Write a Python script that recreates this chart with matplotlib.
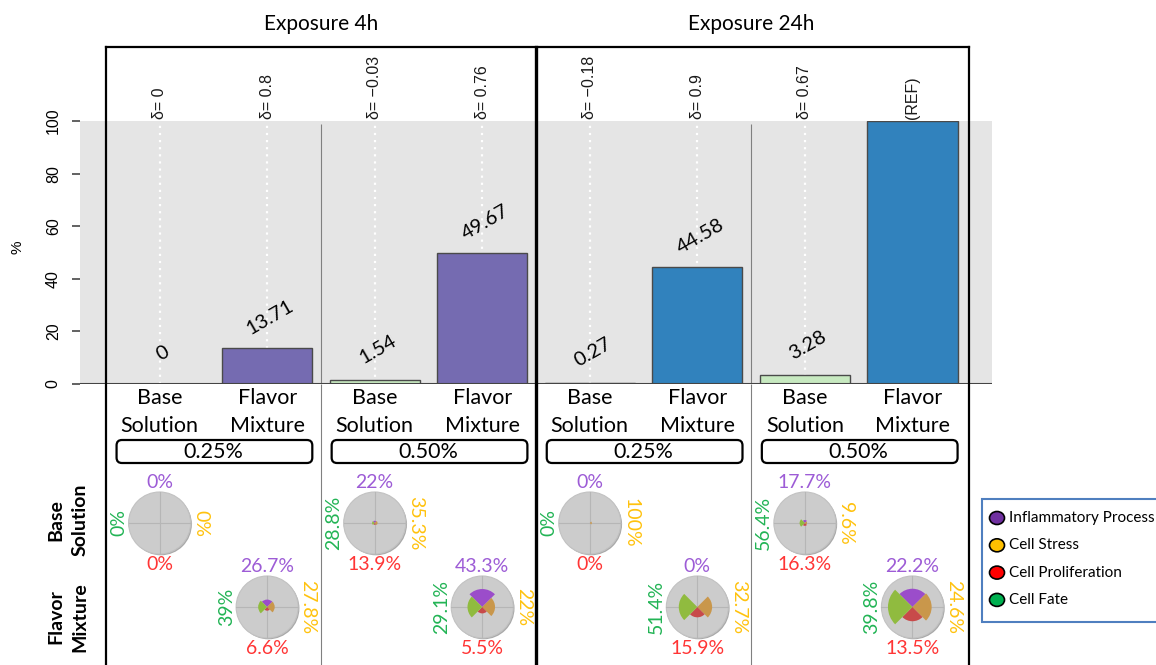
import numpy as np
import matplotlib
matplotlib.use("Agg")
import matplotlib.pyplot as plt
from matplotlib.patches import Circle, Wedge, FancyBboxPatch, Rectangle, Ellipse
from matplotlib.transforms import blended_transform_factory

# ---------------- data ----------------
exposures = ["Exposure 4h", "Exposure 24h"]
concentrations = ["0.25%", "0.50%", "0.25%", "0.50%"]
treatments = ["Base\nSolution", "Flavor\nMixture"]
bar_values = [0, 13.71, 1.54, 49.67, 0.27, 44.58, 3.28, 100]
deltas = [0, 0.8, -0.03, 0.76, -0.18, 0.9, 0.67, None]   # None marks the reference

processes = ["Inflammatory Process", "Cell Stress", "Cell Proliferation", "Cell Fate"]
inflammatory = [0, 26.7, 22, 43.3, 0, 0, 17.7, 22.2]
cell_stress = [0, 27.8, 35.3, 22, 100, 32.7, 9.6, 24.6]
cell_proliferation = [0, 6.6, 13.9, 5.5, 0, 15.9, 16.3, 13.5]
cell_fate = [0, 39, 28.8, 29.1, 0, 51.4, 56.4, 39.8]

# ---------------- style ----------------
plt.rcParams["font.family"] = ["Lato", "DejaVu Sans"]
W, H = 1156, 665
fig = plt.figure(figsize=(W / 100, H / 100), dpi=100)

BASE_COLOR = "#C7E9C0"
FLAVOR_COLORS = ["#756BB1", "#3182BD"]
WEDGE_COLORS = ["#9B4DCA", "#C9974B", "#C84A4A", "#90BB3F"]
LABEL_COLORS = ["#9D5CD6", "#FFC20E", "#FF3535", "#22B455"]
LEGEND_COLORS = ["#7030A0", "#FFC000", "#FF0000", "#00B050"]
R_FONT = ["Liberation Sans", "DejaVu Sans"]

n = len(bar_values)
x = np.arange(n)
XLIM = (-0.74, n - 0.26)
ax_left, ax_w = 80, 912
px_per_unit = ax_w / (XLIM[1] - XLIM[0])

# ---------------- bar panel ----------------
ax = fig.add_axes([ax_left / W, 1 - 384 / H, ax_w / W, 263 / H])
ax.set_facecolor("#E5E5E5")
ax.set_xlim(*XLIM)
ax.set_ylim(0, 100)
for s in ax.spines.values():
    s.set_visible(False)
ax.set_xticks([])
ax.set_yticks(np.arange(0, 101, 20))
ax.tick_params(axis="y", length=5.8, width=1.3, color="#555555", pad=8,
               labelsize=11.5, labelrotation=90)
for lab in ax.get_yticklabels():
    lab.set_family(R_FONT)
    lab.set_va("center")
ax.text(-0.069, 0.52, "%", transform=ax.transAxes, rotation=90, ha="center",
        va="center", fontsize=11, family=R_FONT)

ax.vlines(x, 0, 100, colors="white", linestyles=(0, (1, 2.2)), lw=1.6, zorder=1)
ax.vlines([1.5, 5.5], 0, 98.8, colors="#808080", lw=0.8, zorder=1)

colors = []
for i in range(n):
    if i % 2 == 0:
        colors.append(BASE_COLOR)
    else:
        colors.append(FLAVOR_COLORS[i // 4])
ax.bar(x, bar_values, width=0.84, color=colors, edgecolor="#4A4A4A", lw=1.0, zorder=2)
ax.axhline(0, color="#444444", lw=1.5, zorder=3)

for i, (v, d) in enumerate(zip(bar_values, deltas)):
    if d is None:
        top = "(REF)"
    else:
        top = "δ= " + f"{d:g}".replace("-", "\u2212")
        ax.annotate(f"{v:g}", (i, v), xytext=(2, 22), textcoords="offset points",
                    ha="center", va="center", rotation=30, fontsize=14.5,
                    zorder=4)
    ax.text(i, 100.8, top, rotation=90, ha="center", va="bottom", fontsize=11.5,
            family=R_FONT, color="#1A1A1A")

# exposure titles
tr_title = blended_transform_factory(ax.transData, fig.transFigure)
for g, title in enumerate(exposures):
    fig.text(4 * g + 1.5, 1 - 24 / H, title, transform=tr_title, ha="center",
             va="center", fontsize=15)

# ---------------- lower panel ----------------
bh = 281
bx = fig.add_axes([ax_left / W, 0, ax_w / W, bh / H])
bx.set_xlim(*XLIM)
bx.set_ylim(-bh / px_per_unit, 0)
bx.axis("off")


def py(p):
    # vertical pixel position (from figure top) to lower-panel data units
    return -(p - 384) / px_per_unit


bx.vlines([1.5, 5.5], py(665), 0, colors="#808080", lw=0.8)

for i in range(n):
    bx.text(i, py(412), treatments[i % 2], ha="center", va="center", fontsize=15.5,
            linespacing=1.45)

for g, conc in enumerate(concentrations):
    box = FancyBboxPatch((2 * g - 0.40, py(463)), 1.82, py(440) - py(463),
                         boxstyle="round,pad=0,rounding_size=0.05",
                         fc="white", ec="black", lw=1.6)
    bx.add_patch(box)
    bx.text(2 * g + 0.5, py(452), conc, ha="center", va="center", fontsize=15.5)

R = 31 / px_per_unit
off = 41 / px_per_unit
row_y = [py(523), py(607)]
series = [inflammatory, cell_stress, cell_proliferation, cell_fate]
angles = [(45, 135), (-45, 45), (225, 315), (135, 225)]
for i in range(n):
    cx, cy = i, row_y[i % 2]
    bx.add_patch(Circle((cx + 0.012, cy - 0.012), R, fc="#A9A9A9", ec="none", zorder=2))
    bx.add_patch(Circle((cx, cy), R, fc="#CCCCCC", ec="#C2C2C2", lw=0.8, zorder=3))
    bx.plot([cx - R, cx + R], [cy, cy], color="#B6B6B6", lw=0.8, zorder=4)
    bx.plot([cx, cx], [cy - R, cy + R], color="#B6B6B6", lw=0.8, zorder=4)
    for k in range(4):
        p = series[k][i]
        r = R * np.sqrt(bar_values[i] * p) / 80
        if r > 0:
            bx.add_patch(Wedge((cx, cy), r, angles[k][0], angles[k][1],
                               fc=WEDGE_COLORS[k], ec="none", zorder=5))
    labels = [f"{s[i]:g}%" for s in series]
    bx.text(cx, cy + off, labels[0], color=LABEL_COLORS[0], ha="center", va="center", fontsize=14)
    bx.text(cx + off, cy, labels[1], color=LABEL_COLORS[1], ha="center", va="center",
            fontsize=14, rotation=270)
    bx.text(cx, cy - off, labels[2], color=LABEL_COLORS[2], ha="center", va="center", fontsize=14)
    bx.text(cx - off, cy, labels[3], color=LABEL_COLORS[3], ha="center", va="center",
            fontsize=14, rotation=90)

# ---------------- frames, row titles, legend ----------------
ov = fig.add_axes([0, 0, 1, 1])
ov.set_xlim(0, W)
ov.set_ylim(H, 0)
ov.axis("off")
ov.patch.set_visible(False)

ov.plot([106, 969], [47, 47], color="black", lw=1.6, solid_capstyle="projecting")
ov.plot([106, 106], [47, H], color="black", lw=1.6)
ov.plot([969, 969], [47, H], color="black", lw=1.6)
tr_mid = blended_transform_factory(ax.transData, ov.transData)
ov.plot([3.5, 3.5], [47, H], color="black", lw=2.4, transform=tr_mid)

ov.text(68, 520, treatments[0], rotation=90, ha="center", va="center",
        fontsize=14, fontweight="bold", linespacing=1.55)
ov.text(68, 617, treatments[1], rotation=90, ha="center", va="center",
        fontsize=14, fontweight="bold", linespacing=1.55)

ov.add_patch(Rectangle((982, 499), 200, 123, fc="white", ec="#4F7FBF", lw=1.5))
for k, name in enumerate(processes):
    yk = 518 + 27.3 * k
    ov.add_patch(Ellipse((997, yk), 15, 13, fc=LEGEND_COLORS[k], ec="black", lw=1.2))
    ov.text(1009, yk, name, ha="left", va="center", fontsize=11)

fig.savefig("out.png", dpi=100)
